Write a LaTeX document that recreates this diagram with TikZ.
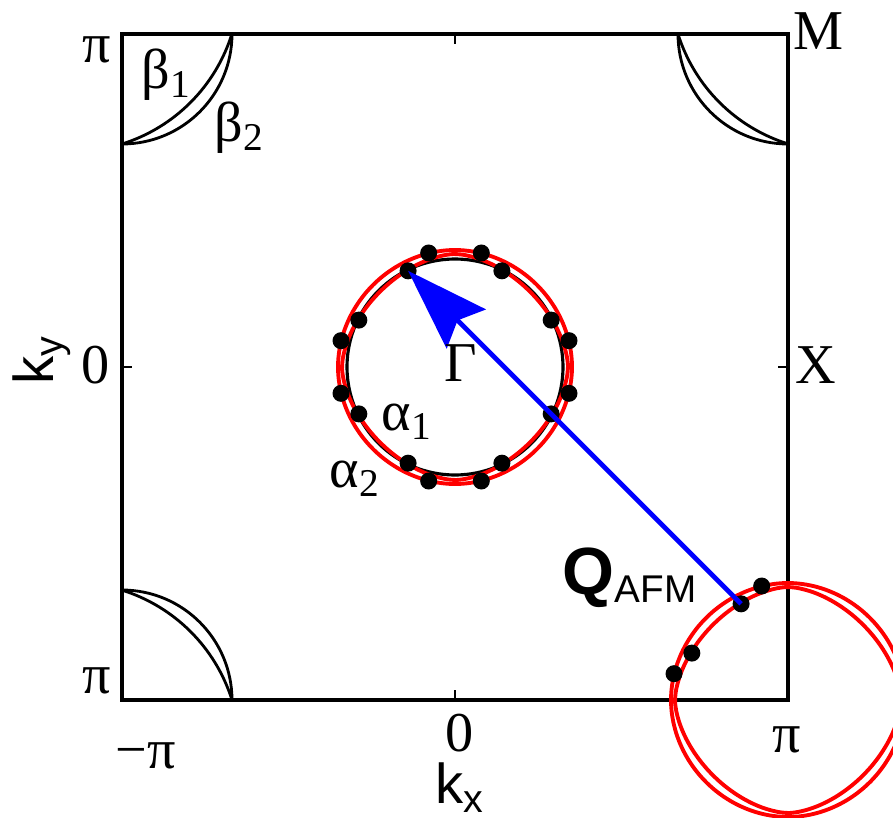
\documentclass[tikz,border=0pt]{standalone}
\usepackage{fontspec}
\setmainfont{Liberation Serif}
\setsansfont{Liberation Sans}
\usepackage{tikz}
\usetikzlibrary{arrows.meta}
\definecolor{fsred}{RGB}{255,0,0}
\definecolor{qblue}{RGB}{0,0,255}
\newcommand{\pocket}[2]{plot[smooth cycle, domain=1:356, samples=72] (\x:{#1*(abs(cos(\x))^#2+abs(sin(\x))^#2)^(-1/#2)})}

\begin{document}
\begin{tikzpicture}[
    lbl/.style={inner sep=0pt, font=\fontsize{16}{18}\selectfont},
    sflbl/.style={inner sep=0pt, font=\sffamily\fontsize{16}{18}\selectfont},
    fsline/.style={fsred, line width=1.1pt},
    fsdot/.style={fill=black}]
    \useasboundingbox (-4.55,-4.50) rectangle (4.38,3.67);
    \clip (-4.55,-4.50) rectangle (4.38,3.67);

    % beta pockets
    \foreach \r in {0,90,-90}{
        \begin{scope}[rotate=\r]
            \draw[line width=0.8pt] (-3.33,2.23) arc[start angle=-90, end angle=0, radius=1.1];
            \draw[line width=0.8pt] (-3.33,2.23) arc[start angle=-72.6, end angle=-17.4, radius=1.676];
        \end{scope}
    }

    % zone boundary
    \draw[line width=1pt] (-3.33,-3.33) rectangle (3.33,3.33);
    \draw[line width=0.6pt] (0,-3.33) -- ++(0,0.1) (0,3.33) -- ++(0,-0.1)
        (-3.33,0) -- ++(0.1,0) (3.33,0) -- ++(-0.1,0);

    % alpha pockets
    \draw[line width=0.9pt] (0,0) circle[radius=1.08];
    \draw[fsline] \pocket{1.17}{1.95};
    \draw[fsline] \pocket{1.13}{1.7};
    \begin{scope}[shift={(3.33,-3.33)}]
        \draw[fsline] \pocket{1.17}{1.95};
        \draw[fsline] \pocket{1.13}{1.7};
    \end{scope}

    \foreach \a in {26,64,116,154,206,244,296,334}
        \fill[fsdot] (\a:1.07) circle[radius=0.085];
    \foreach \a in {13,77,103,167,193,257,283,347}
        \fill[fsdot] (\a:1.17) circle[radius=0.085];
    \foreach \a/\r in {103/1.17,116/1.07,154/1.07,167/1.17}
        \fill[fsdot] ([shift={(3.33,-3.33)}]\a:\r) circle[radius=0.085];

    % nesting vector
    \coordinate (qtail) at ([shift={(3.33,-3.33)}]116:1.07);
    \coordinate (qtip) at (116:1.07);
    \draw[qblue, line width=1.4pt, -{Stealth[length=0.82cm, width=0.55cm, inset=0.12cm]}] (qtail) -- (qtip);

    % labels
    \node[lbl, anchor=east] (ypi) at (-3.43,3.17) {π};
    \node[lbl, anchor=east] (yzero) at (-3.45,0.02) {0};
    \node[lbl, anchor=east] (ympi) at (-3.43,-3.14) {π};
    \node[sflbl, rotate=90] (ky) at (-4.13,0.07) {k\textsubscript{y}};
    \node[lbl] (xmpi) at (-3.09,-3.89) {−π};
    \node[lbl] (xzero) at (0.05,-3.66) {0};
    \node[sflbl] (kx) at (0.05,-4.21) {k\textsubscript{x}};
    \node[lbl] (xpi) at (3.32,-3.73) {π};
    \node[lbl, anchor=west] (mlab) at (3.38,3.36) {M};
    \node[lbl, anchor=west] (xlab) at (3.40,0.02) {X};
    \node[lbl] (gam) at (0.06,0.04) {Γ};
    \node[lbl] (a1) at (-0.48,-0.55) {α\textsubscript{1}};
    \node[lbl] (a2) at (-1.00,-1.12) {α\textsubscript{2}};
    \node[lbl] (b1) at (-2.88,2.92) {β\textsubscript{1}};
    \node[lbl] (b2) at (-2.15,2.39) {β\textsubscript{2}};
    \node[inner sep=0pt, anchor=base west, font=\sffamily] (qlab) at (1.07,-2.27)
        {{\fontsize{19}{20}\selectfont\bfseries Q}{\fontsize{11}{12}\selectfont\raisebox{-2.3pt}{AFM}}};
\end{tikzpicture}
\end{document}
